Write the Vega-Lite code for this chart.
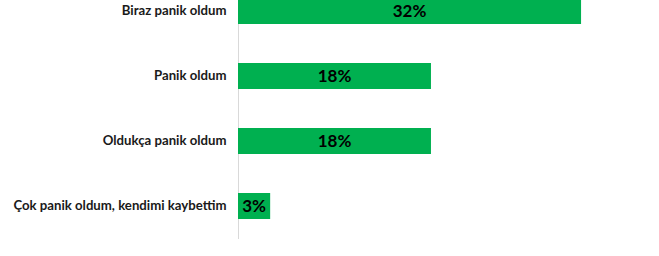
{
  "$schema": "https://vega.github.io/schema/vega-lite/v6.json",
  "autosize": {"type": "none"},
  "width": 421,
  "height": 260,
  "padding": {"left": 238, "top": -21.5, "right": 0, "bottom": 17.5},
  "background": "white",
  "config": {"view": {"stroke": null}},
  "data": {
    "values": [
      {"category": "Biraz panik oldum", "value": 0.32},
      {"category": "Panik oldum", "value": 0.18},
      {"category": "Oldukça panik oldum", "value": 0.18},
      {"category": "Çok panik oldum, kendimi kaybettim", "value": 0.03}
    ]
  },
  "transform": [{"calculate": "datum.value / 2", "as": "mid"}],
  "encoding": {
    "y": {
      "field": "category",
      "type": "nominal",
      "sort": null,
      "scale": {"paddingInner": 0.6, "paddingOuter": 0.3},
      "axis": {
        "title": null,
        "ticks": false,
        "grid": false,
        "domainColor": "#d9d9d9",
        "domainWidth": 1,
        "labelFont": "Lato",
        "labelFontWeight": "bold",
        "labelFontSize": 13.2,
        "labelColor": "#1a1a1a",
        "labelPadding": 12,
        "labelLimit": 300
      }
    }
  },
  "layer": [
    {
      "mark": {"type": "bar", "color": "#00b050"},
      "encoding": {
        "x": {"field": "value", "type": "quantitative", "scale": {"domain": [0, 0.3927], "nice": false, "zero": true}, "axis": null}
      }
    },
    {
      "mark": {"type": "text", "font": "Lato", "fontWeight": "bold", "fontSize": 17, "color": "#000000", "align": "center", "baseline": "middle", "dy": 1},
      "encoding": {
        "x": {"field": "mid", "type": "quantitative"},
        "text": {"field": "value", "type": "quantitative", "format": ".0%"}
      }
    }
  ]
}
